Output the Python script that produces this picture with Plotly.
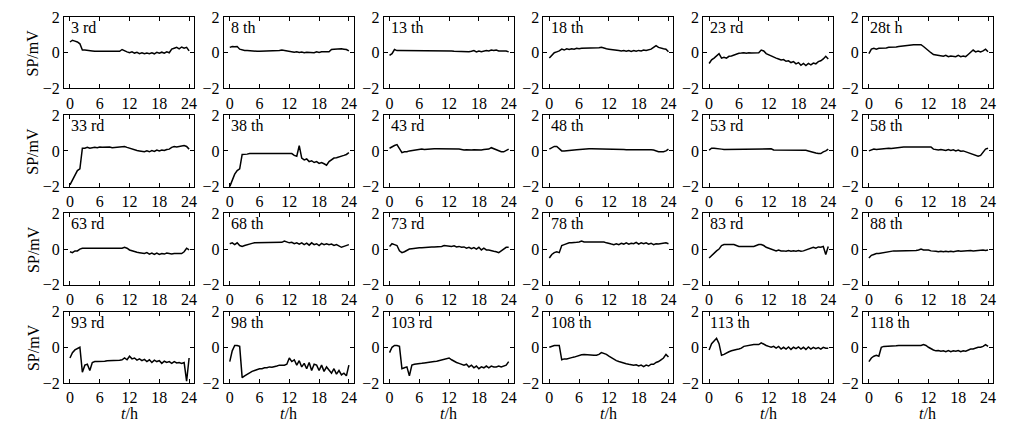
import plotly.graph_objects as go
from plotly.subplots import make_subplots

# sampling times, hours
hours = [0, 0.5, 1, 1.5, 2, 2.5, 3, 3.5, 4, 4.5, 5, 5.5, 6, 6.5, 7, 7.5, 8, 8.5, 9, 9.5,
         10, 10.5, 11, 11.5, 12, 12.5, 13, 13.5, 14, 14.5, 15, 15.5, 16, 16.5, 17, 17.5,
         18, 18.5, 19, 19.5, 20, 20.5, 21, 21.5, 22, 22.5, 23, 23.5, 24]

labels = ["3 rd", "8 th", "13 th", "18 th", "23 rd", "28t h",
          "33 rd", "38 th", "43 rd", "48 th", "53 rd", "58 th",
          "63 rd", "68 th", "73 rd", "78 th", "83 rd", "88 th",
          "93 rd", "98 th", "103 rd", "108 th", "113 th", "118 th"]

# SP values, mV
s03 = [0.6, 0.7, 0.65, 0.6, 0.5, 0.15, 0.15, 0.12, 0.1, 0.1, 0.08, 0.08, 0.08, 0.05, 0.05,
       0.05, 0.06, 0.06, 0.06, 0.06, 0.08, 0.18, 0.1, 0.05, 0.0, 0.05, -0.02, 0.02, -0.05, 0.0,
       -0.06, -0.02, -0.05, 0.0, -0.06, 0.02, -0.03, 0.03, -0.03, 0.05, 0.0, 0.2, 0.25, 0.3, 0.22,
       0.32, 0.25, 0.3, 0.1]
s08 = [0.3, 0.35, 0.33, 0.35, 0.2, 0.15, 0.13, 0.12, 0.1, 0.1, 0.1, 0.08, 0.08, 0.08, 0.08,
       0.08, 0.08, 0.08, 0.1, 0.1, 0.12, 0.15, 0.12, 0.08, 0.05, 0.06, 0.03, 0.05, 0.02, 0.04,
       0.0, 0.03, 0.02, 0.04, 0.0, 0.05, 0.02, 0.05, 0.03, 0.05, 0.05, 0.18, 0.2, 0.22, 0.2,
       0.22, 0.2, 0.18, 0.1]
s13 = [-0.15, -0.05, 0.18, 0.12, 0.12, 0.12, 0.12, 0.12, 0.13, 0.13, 0.13, 0.13, 0.13, 0.13, 0.14,
       0.14, 0.14, 0.14, 0.14, 0.14, 0.14, 0.14, 0.12, 0.13, 0.12, 0.1, 0.08, 0.07, 0.06, 0.06,
       0.05, 0.06, 0.05, 0.08, 0.12, 0.05, 0.1, 0.06, 0.1, 0.12, 0.1, 0.15, 0.12, 0.15, 0.1,
       0.12, 0.1, 0.1, 0.05]
s18 = [-0.3, -0.15, 0.0, 0.05, 0.1, 0.2, 0.15, 0.22, 0.18, 0.22, 0.2, 0.25, 0.22, 0.25, 0.25,
       0.26, 0.26, 0.27, 0.27, 0.28, 0.28, 0.3, 0.25, 0.22, 0.2, 0.17, 0.15, 0.13, 0.12, 0.1,
       0.12, 0.08, 0.12, 0.07, 0.12, 0.08, 0.13, 0.1, 0.15, 0.12, 0.15, 0.2, 0.3, 0.4, 0.3,
       0.25, 0.22, 0.2, 0.05]
s23 = [-0.6, -0.4, -0.3, -0.15, -0.05, -0.3, -0.25, -0.3, -0.2, -0.18, -0.12, -0.08, -0.03, -0.02, 0.0,
       -0.03, 0.0, -0.02, 0.0, -0.02, 0.0, 0.15, 0.1, -0.05, -0.12, -0.2, -0.25, -0.3, -0.35, -0.4,
       -0.38, -0.48, -0.45, -0.55, -0.5, -0.62, -0.55, -0.7, -0.6, -0.72, -0.6, -0.68, -0.58, -0.62, -0.5,
       -0.45, -0.35, -0.2, -0.35]
s28 = [-0.05, 0.2, 0.25, 0.2, 0.25, 0.25, 0.25, 0.27, 0.3, 0.3, 0.3, 0.32, 0.35, 0.37, 0.4,
       0.42, 0.45, 0.45, 0.45, 0.45, 0.45, 0.45, 0.35, 0.22, 0.1, 0.0, -0.1, -0.12, -0.15, -0.18,
       -0.2, -0.15, -0.22, -0.18, -0.2, -0.22, -0.15, -0.22, -0.18, -0.22, -0.1, 0.05, 0.15, 0.05, 0.1,
       0.05, 0.1, 0.2, 0.05]
s33 = [-1.9, -1.6, -1.4, -1.1, -1.0, 0.15, 0.15, 0.2, 0.15, 0.18, 0.2, 0.18, 0.22, 0.2, 0.22,
       0.2, 0.22, 0.18, 0.2, 0.2, 0.2, 0.25, 0.25, 0.2, 0.15, 0.1, 0.05, 0.02, 0.0, -0.03,
       -0.05, 0.0, -0.05, 0.02, -0.03, 0.05, 0.0, 0.05, 0.02, 0.08, 0.1, 0.2, 0.25, 0.22, 0.25,
       0.28, 0.3, 0.25, 0.1]
s38 = [-2.0, -1.6, -1.3, -1.1, -1.0, -0.2, -0.2, -0.18, -0.15, -0.15, -0.15, -0.15, -0.12, -0.15, -0.15,
       -0.15, -0.15, -0.15, -0.15, -0.15, -0.15, -0.15, -0.15, -0.12, -0.12, -0.15, -0.25, -0.3, 0.3, -0.4,
       -0.5, -0.45, -0.6, -0.55, -0.65, -0.6, -0.7, -0.65, -0.72, -0.8, -0.6, -0.5, -0.4, -0.38, -0.35,
       -0.3, -0.25, -0.2, -0.1]
s43 = [0.15, 0.25, 0.3, 0.35, 0.1, -0.1, -0.05, -0.05, 0.0, 0.02, 0.05, 0.05, 0.05, 0.1, 0.08,
       0.1, 0.12, 0.1, 0.12, 0.12, 0.12, 0.13, 0.12, 0.12, 0.12, 0.12, 0.1, 0.12, 0.1, 0.08,
       0.05, 0.07, 0.05, 0.05, 0.07, 0.05, 0.06, 0.05, 0.08, 0.1, 0.1, 0.18, 0.12, 0.05, 0.0,
       -0.05, -0.05, 0.05, 0.1]
s48 = [0.1, 0.2, 0.25, 0.25, 0.1, 0.0, 0.0, 0.02, 0.05, 0.05, 0.05, 0.06, 0.08, 0.1, 0.12,
       0.12, 0.12, 0.12, 0.12, 0.12, 0.12, 0.12, 0.12, 0.12, 0.11, 0.1, 0.1, 0.08, 0.1, 0.08,
       0.08, 0.07, 0.08, 0.06, 0.08, 0.07, 0.06, 0.08, 0.06, 0.07, 0.08, 0.06, 0.05, 0.0, -0.05,
       -0.05, -0.05, 0.0, 0.1]
s53 = [0.05, 0.15, 0.15, 0.12, 0.1, 0.1, 0.08, 0.08, 0.08, 0.08, 0.1, 0.1, 0.12, 0.12, 0.12,
       0.12, 0.12, 0.12, 0.12, 0.12, 0.12, 0.12, 0.12, 0.12, 0.12, 0.12, 0.05, 0.05, 0.06, 0.04,
       0.05, 0.04, 0.06, 0.03, 0.05, 0.04, 0.06, 0.03, 0.05, 0.03, 0.0, -0.05, -0.1, -0.12, -0.15,
       -0.15, -0.05, 0.0, 0.1]
s58 = [0.0, 0.05, 0.1, 0.08, 0.1, 0.1, 0.1, 0.12, 0.15, 0.13, 0.15, 0.18, 0.22, 0.22, 0.22,
       0.22, 0.22, 0.22, 0.22, 0.22, 0.22, 0.22, 0.22, 0.22, 0.22, 0.22, 0.1, 0.08, 0.05, 0.08,
       0.05, 0.02, 0.08, 0.03, 0.06, 0.0, 0.05, -0.02, 0.0, -0.05, -0.1, -0.15, -0.2, -0.25, -0.3,
       -0.25, -0.05, 0.1, 0.15]
s63 = [-0.15, -0.2, -0.1, -0.1, 0.0, 0.05, 0.05, 0.05, 0.05, 0.05, 0.05, 0.05, 0.05, 0.05, 0.05,
       0.05, 0.05, 0.05, 0.05, 0.05, 0.05, 0.05, 0.1, 0.05, -0.05, -0.1, -0.15, -0.18, -0.2, -0.22,
       -0.25, -0.2, -0.28, -0.22, -0.3, -0.22, -0.3, -0.25, -0.28, -0.22, -0.25, -0.28, -0.25, -0.25, -0.25,
       -0.25, -0.15, 0.05, -0.05]
s68 = [0.3, 0.35, 0.25, 0.35, 0.2, 0.15, 0.2, 0.25, 0.3, 0.32, 0.35, 0.35, 0.35, 0.35, 0.35,
       0.35, 0.35, 0.35, 0.35, 0.35, 0.35, 0.38, 0.45, 0.4, 0.35, 0.38, 0.3, 0.35, 0.28, 0.35,
       0.25, 0.33, 0.22, 0.35, 0.25, 0.3, 0.2, 0.32, 0.25, 0.3, 0.25, 0.28, 0.2, 0.25, 0.15,
       0.1, 0.15, 0.2, 0.25]
s73 = [0.15, 0.3, 0.25, 0.2, -0.1, -0.2, -0.15, -0.05, 0.0, 0.02, 0.05, 0.05, 0.08, 0.08, 0.1,
       0.1, 0.12, 0.12, 0.12, 0.12, 0.12, 0.15, 0.2, 0.18, 0.2, 0.15, 0.18, 0.12, 0.15, 0.1,
       0.12, 0.05, 0.1, 0.02, 0.08, 0.0, 0.1, -0.05, 0.05, -0.05, -0.05, -0.1, -0.12, -0.15, -0.2,
       -0.1, 0.0, 0.1, 0.1]
s78 = [-0.5, -0.3, -0.2, -0.15, -0.2, 0.2, 0.25, 0.3, 0.35, 0.35, 0.35, 0.38, 0.4, 0.45, 0.4,
       0.4, 0.4, 0.4, 0.4, 0.4, 0.4, 0.4, 0.4, 0.35, 0.3, 0.28, 0.25, 0.3, 0.25, 0.32,
       0.28, 0.35, 0.28, 0.33, 0.3, 0.38, 0.28, 0.35, 0.3, 0.35, 0.28, 0.33, 0.25, 0.3, 0.28,
       0.3, 0.3, 0.35, 0.3]
s83 = [-0.5, -0.35, -0.25, -0.1, 0.0, 0.2, 0.25, 0.25, 0.25, 0.25, 0.25, 0.2, 0.15, 0.15, 0.15,
       0.15, 0.15, 0.15, 0.15, 0.2, 0.25, 0.25, 0.2, 0.1, 0.05, 0.0, -0.05, -0.1, -0.05, -0.1,
       -0.1, -0.12, -0.08, -0.12, -0.1, -0.12, -0.08, -0.12, -0.1, -0.05, 0.0, 0.05, 0.1, 0.05, 0.12,
       0.1, 0.15, -0.3, 0.15]
s88 = [-0.5, -0.35, -0.3, -0.25, -0.25, -0.22, -0.2, -0.18, -0.15, -0.12, -0.1, -0.1, -0.1, -0.1, -0.1,
       -0.12, -0.1, -0.12, -0.1, -0.08, -0.05, 0.0, -0.05, -0.05, -0.05, -0.1, -0.1, -0.12, -0.15, -0.12,
       -0.15, -0.12, -0.15, -0.12, -0.15, -0.12, -0.1, -0.12, -0.1, -0.12, -0.1, -0.08, -0.1, -0.08, -0.1,
       -0.08, -0.05, -0.08, -0.05]
s93 = [-0.6, -0.3, -0.15, -0.05, 0.0, -1.4, -1.0, -0.95, -1.3, -0.85, -0.8, -0.8, -0.8, -0.78, -0.78,
       -0.75, -0.75, -0.75, -0.75, -0.72, -0.72, -0.7, -0.6, -0.7, -0.5, -0.65, -0.6, -0.72, -0.65, -0.75,
       -0.68, -0.8, -0.7, -0.85, -0.72, -0.8, -0.75, -0.9, -0.78, -0.85, -0.8, -0.9, -0.8, -0.88, -0.85,
       -0.9, -0.85, -1.9, -0.6]
s98 = [-0.8, -0.2, 0.1, 0.1, 0.05, -1.7, -1.6, -1.5, -1.4, -1.35, -1.3, -1.25, -1.2, -1.2, -1.15,
       -1.15, -1.1, -1.12, -1.1, -1.05, -1.0, -1.0, -1.0, -0.95, -0.6, -0.8, -0.7, -1.0, -0.75, -1.1,
       -0.9, -1.2, -0.85, -1.3, -0.95, -1.0, -1.3, -1.0, -1.35, -1.1, -1.25, -1.45, -1.2, -1.5, -1.3,
       -1.55, -1.45, -1.6, -1.0]
s103 = [-0.3, 0.0, 0.1, 0.1, 0.05, -1.2, -1.15, -1.1, -1.6, -1.0, -0.95, -0.92, -0.9, -0.9, -0.88,
        -0.85, -0.85, -0.82, -0.8, -0.78, -0.75, -0.72, -0.7, -0.65, -0.6, -0.7, -0.8, -0.85, -0.9, -0.95,
        -1.0, -0.95, -1.1, -1.0, -1.15, -1.05, -1.2, -1.1, -1.15, -1.05, -1.15, -1.05, -1.1, -1.1, -1.05,
        -1.1, -1.05, -1.0, -0.8]
s108 = [0.0, 0.05, 0.1, 0.1, 0.1, -0.7, -0.65, -0.65, -0.6, -0.58, -0.55, -0.5, -0.45, -0.42, -0.4,
        -0.42, -0.45, -0.45, -0.45, -0.45, -0.4, -0.3, -0.35, -0.4, -0.5, -0.6, -0.7, -0.75, -0.8, -0.85,
        -0.9, -0.92, -0.95, -0.98, -1.0, -0.98, -1.05, -1.0, -1.08, -1.0, -1.05, -0.95, -0.95, -0.85, -0.8,
        -0.7, -0.6, -0.4, -0.55]
s113 = [-0.15, 0.2, 0.35, 0.5, 0.2, -0.45, -0.4, -0.3, -0.25, -0.2, -0.15, -0.12, -0.1, -0.05, 0.05,
        0.08, 0.1, 0.12, 0.15, 0.15, 0.15, 0.25, 0.15, 0.1, 0.05, 0.0, 0.05, -0.05, 0.05, -0.1,
        0.0, -0.1, 0.02, -0.12, 0.0, -0.08, 0.02, -0.1, 0.0, -0.12, 0.02, -0.1, 0.0, -0.08, -0.02,
        -0.1, 0.0, -0.05, -0.05]
s118 = [-0.8, -0.6, -0.5, -0.45, -0.5, 0.0, 0.05, 0.05, 0.05, 0.05, 0.08, 0.08, 0.1, 0.1, 0.1,
        0.1, 0.1, 0.1, 0.1, 0.1, 0.1, 0.1, 0.15, 0.1, 0.0, -0.1, -0.15, -0.2, -0.18, -0.22,
        -0.2, -0.25, -0.18, -0.25, -0.2, -0.22, -0.18, -0.25, -0.2, -0.22, -0.15, -0.1, -0.1, -0.05, 0.0,
        0.0, 0.05, 0.15, 0.05]

series = [s03, s08, s13, s18, s23, s28, s33, s38, s43, s48, s53, s58,
          s63, s68, s73, s78, s83, s88, s93, s98, s103, s108, s113, s118]

FONT = "Liberation Serif, Times New Roman, serif"
nrows, ncols = 4, 6

fig = make_subplots(rows=nrows, cols=ncols,
                    horizontal_spacing=0.032, vertical_spacing=0.073)

for k, (lab, vals) in enumerate(zip(labels, series)):
    r = k // ncols + 1
    c = k % ncols + 1
    fig.add_trace(go.Scatter(x=hours, y=vals, mode="lines",
                             line=dict(color="black", width=1.5),
                             showlegend=False, hoverinfo="skip"),
                  row=r, col=c)
    sfx = "" if k == 0 else str(k + 1)
    fig.add_annotation(text=lab, xref=f"x{sfx} domain", yref=f"y{sfx} domain",
                       x=0.04, y=1.0, xanchor="left", yanchor="top", showarrow=False,
                       font=dict(family=FONT, size=16, color="black"))
    # axis titles as annotations so they sit where the reference has them
    if c == 1:
        fig.add_annotation(text="SP/mV", xref=f"x{sfx} domain", yref=f"y{sfx} domain",
                           x=-0.24, y=0.5, xanchor="center", yanchor="middle",
                           textangle=-90, showarrow=False,
                           font=dict(family=FONT, size=16, color="black"))
    if r == nrows:
        fig.add_annotation(text="<i>t</i>/h", xref=f"x{sfx} domain", yref=f"y{sfx} domain",
                           x=0.5, y=-0.42, xanchor="center", yanchor="middle",
                           showarrow=False,
                           font=dict(family=FONT, size=16, color="black"))

fig.update_xaxes(range=[-1.2, 25], tickvals=[0, 6, 12, 18, 24],
                 ticks="inside", ticklen=4, tickcolor="black",
                 showline=True, linecolor="black", linewidth=1, mirror="ticks",
                 showgrid=False, zeroline=False,
                 tickfont=dict(family=FONT, size=16, color="black"))
fig.update_yaxes(range=[-2, 2], tickvals=[-2, 0, 2],
                 ticks="inside", ticklen=4, tickcolor="black",
                 showline=True, linecolor="black", linewidth=1, mirror="ticks",
                 showgrid=False, zeroline=False,
                 tickfont=dict(family=FONT, size=16, color="black"))

fig.update_layout(width=1024, height=424,
                  margin=dict(l=64, r=31, t=9, b=41),
                  plot_bgcolor="white", paper_bgcolor="white",
                  font=dict(family=FONT, size=16, color="black"))

# drop the default page margin so the figure starts at the window corner
fig.write_html("out.html", config={"displayModeBar": False},
               post_script="document.body.style.margin='0';document.body.style.overflow='hidden';")
